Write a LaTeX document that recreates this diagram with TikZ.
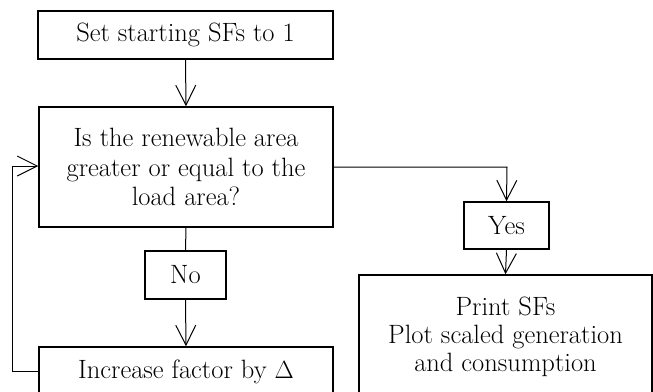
\documentclass[tikz,border=0pt]{standalone}
\usetikzlibrary{arrows.meta}
\tikzset{
  txt/.style={font=\fontsize{26.5}{29.5}\selectfont},
  box/.style={draw=black, line width=1.5pt, align=center, inner sep=0pt, txt},
  conn/.style={draw=black, line width=1pt},
  arr/.style={conn, -{Straight Barb[length=20pt, width=20pt, line width=1pt]}},
}
\begin{document}
\begin{tikzpicture}[x=1pt, y=-1pt]
\useasboundingbox (0,0) rectangle (653,391);
\begin{scope}
\clip (0,0) rectangle (653,391);
\node[box, minimum width=295pt, minimum height=48pt] (start) at (185.5,35) {Set starting SFs to 1};
\node[box, minimum width=294pt, minimum height=120pt] (dec) at (186,167) {Is the renewable area\\greater or equal to the\\load area?};
\node[box, minimum width=81pt, minimum height=48pt] (no) at (185.5,275) {No};
\node[box, minimum width=294pt, minimum height=54pt] (inc) at (186,374) {};
\node[txt] (inct) at (186,372) {Increase factor by $\Delta$};
\node[box, minimum width=85pt, minimum height=47pt] (yes) at (506.5,225.5) {Yes};
\node[box, minimum width=293pt, minimum height=130pt] (print) at (505.5,340) {};
\node[align=center, font=\fontsize{26.5}{28}\selectfont] (printt) at (505.5,337) {Print SFs\\Plot scaled generation\\and consumption};
\coordinate (yc) at (507,167);
\coordinate (lc1) at (12,371);
\coordinate (lc2) at (12,166);
\draw[arr] (start.south) -- (dec.north);
\draw[conn] (dec.south) -- (no.north);
\draw[arr] (no.south) -- (inc.north);
\draw[arr] (inc.west |- lc1) -- (lc1) -- (lc2) -- (dec.west |- lc2);
\draw[arr] (dec.east |- yc) -- (yc) -- (yes.north);
\draw[arr] (yes.south) -- (print.north);
\end{scope}
\end{tikzpicture}
\end{document}
